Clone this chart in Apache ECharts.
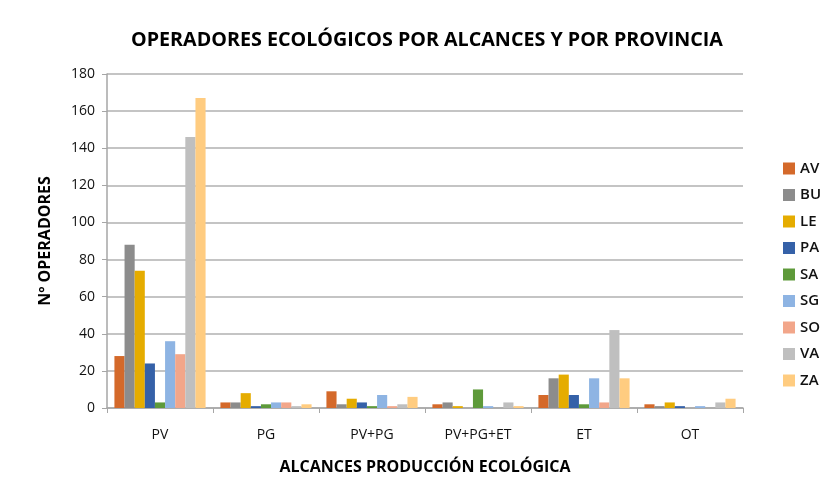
<!DOCTYPE html>
<html><head><meta charset="utf-8">
<script src="https://cdn.jsdelivr.net/npm/echarts@6/dist/echarts.min.js"></script>
<style>html,body{margin:0;padding:0;background:#fff}#c{width:824px;height:491px}</style>
</head><body><div id="c"></div>
<script>
const categories = ['PV','PG','PV+PG','PV+PG+ET','ET','OT'];
const provinces = ['AV','BU','LE','PA','SA','SG','SO','VA','ZA'];
const AV = [28, 3, 9, 2, 7, 2];
const BU = [88, 3, 2, 3, 16, 1];
const LE = [74, 8, 5, 1, 18, 3];
const PA = [24, 1, 3, 0, 7, 1];
const SA = [3, 2, 1, 10, 2, 0];
const SG = [36, 3, 7, 1, 16, 1];
const SO = [29, 3, 1, 0, 3, 0];
const VA = [146, 1, 2, 3, 42, 3];
const ZA = [167, 2, 6, 1, 16, 5];
const values = [AV, BU, LE, PA, SA, SG, SO, VA, ZA];
const colors = ['#D4692A','#8C8C8C','#E5AC00','#3561A8','#5E9A3A','#8EB4E3','#F2A68A','#BFBFBF','#FFCC80'];
const font = '"Open Sans", "Liberation Sans", sans-serif';

const chart = echarts.init(document.getElementById('c'));
chart.setOption({
  animation: false,
  color: colors,
  title: {
    text: 'OPERADORES ECOLÓGICOS POR ALCANCES Y POR PROVINCIA',
    left: 422, top: 25, textAlign: 'center',
    textStyle: {fontFamily: font, fontSize: 19.7, fontWeight: 'bold', color: '#000'}
  },
  legend: {
    orient: 'vertical', left: 778, top: 156, itemWidth: 12, itemHeight: 12, itemGap: 11.5,
    icon: 'rect',
    textStyle: {fontFamily: font, fontSize: 15, fontWeight: 600, color: '#111'},
    data: provinces
  },
  grid: {left: 107, right: 81, top: 74, bottom: 83, containLabel: false},
  xAxis: {
    type: 'category', data: categories,
    name: 'ALCANCES PRODUCCIÓN ECOLÓGICA', nameLocation: 'middle', nameGap: 51,
    nameTextStyle: {fontFamily: font, fontSize: 16, fontWeight: 'bold', color: '#000'},
    axisLine: {lineStyle: {color: '#A6A6A6', width: 1.5}},
    axisTick: {show: true, length: 5, lineStyle: {color: '#A6A6A6'}},
    axisLabel: {fontFamily: font, fontSize: 14, color: '#111', margin: 20}
  },
  yAxis: {
    type: 'value', min: 0, max: 180, interval: 20,
    name: 'Nº OPERADORES', nameLocation: 'middle', nameGap: 54,
    nameTextStyle: {fontFamily: font, fontSize: 16, fontWeight: 'bold', color: '#000'},
    axisLine: {show: true, lineStyle: {color: '#A6A6A6', width: 1.5}},
    axisTick: {show: true, length: 5, lineStyle: {color: '#A6A6A6'}},
    axisLabel: {fontFamily: font, fontSize: 14, color: '#111', margin: 12},
    splitLine: {lineStyle: {color: '#B0B0B0', width: 1.5}}
  },
  series: provinces.map((p, i) => ({
    name: p, type: 'bar', data: values[i],
    barGap: '0%', barCategoryGap: '14%'
  }))
});
</script></body></html>
